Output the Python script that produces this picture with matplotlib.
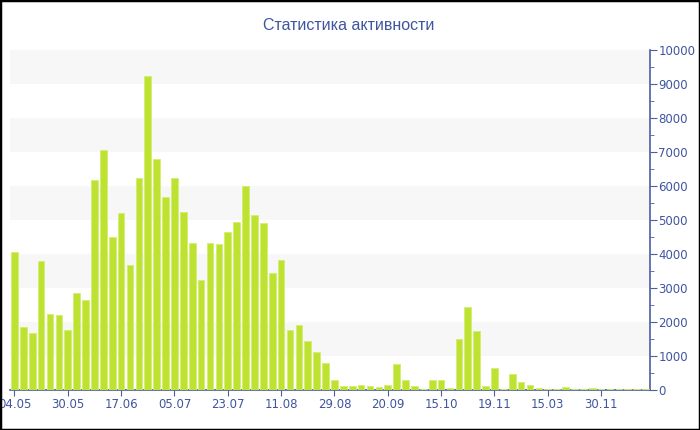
import matplotlib
matplotlib.use("Agg")
import matplotlib.pyplot as plt
import numpy as np

title = "Статистика активности"
values = [4070, 1860, 1670, 3780, 2230, 2200, 1760, 2840, 2660, 6170,
          7060, 4500, 5220, 3670, 6230, 9230, 6800, 5670, 6240, 5240,
          4310, 3230, 4320, 4290, 4640, 4950, 6000, 5140, 4900, 3450,
          3810, 1770, 1920, 1440, 1110, 790, 300, 130, 110, 150,
          120, 80, 150, 760, 300, 110, 40, 290, 280, 60,
          1490, 2440, 1740, 120, 650, 40, 480, 230, 140, 50,
          30, 30, 90, 30, 30, 60, 30, 30, 30, 30,
          30, 30]
tick_labels = ["04.05", "30.05", "17.06", "05.07", "23.07", "11.08",
               "29.08", "20.09", "15.10", "19.11", "15.03", "30.11"]

axis_col = "#4a5fa3"
text_col = "#3f55a0"
bar_col = "#bde232"

fig = plt.figure(figsize=(7, 4.3), dpi=100)
fig.patch.set_facecolor("white")
ax = fig.add_axes([10/700, 40/430, 640/700, 340/430])

x = np.arange(len(values))
ax.bar(x, values, width=0.75, color=bar_col, edgecolor="#d4ee6e", linewidth=0.6, zorder=3)

# alternating grey bands
for lo in range(1000, 10000, 2000):
    ax.axhspan(lo, lo + 1000, color="#f7f7f7", zorder=0, lw=0)

ax.set_xlim(-0.5, len(values) - 0.5)
ax.set_ylim(0, 10000)
ax.set_xticks(x[::6])
ax.set_xticklabels(tick_labels)
ax.set_yticks(range(0, 10001, 1000))
ax.set_yticks(range(500, 10000, 1000), minor=True)
ax.yaxis.tick_right()

for s in ["top", "left"]:
    ax.spines[s].set_visible(False)
for s in ["right", "bottom"]:
    ax.spines[s].set_color(axis_col)
    ax.spines[s].set_linewidth(1.2)

ax.tick_params(axis="both", which="both", colors=axis_col, labelcolor=text_col, labelsize=8.5)
ax.tick_params(axis="x", length=4, pad=2)
ax.tick_params(axis="y", which="major", length=5, pad=1)
ax.tick_params(axis="y", which="minor", length=3)

fig.text(349/700, 1 - 25/430, title, ha="center", va="center", fontsize=11.5,
         color=text_col, family="Liberation Sans")

# figure border
fig.add_artist(plt.Rectangle((0, 0), 1, 1, transform=fig.transFigure, fill=False,
                             edgecolor="black", linewidth=2.5))

fig.savefig("out.png", dpi=100)
